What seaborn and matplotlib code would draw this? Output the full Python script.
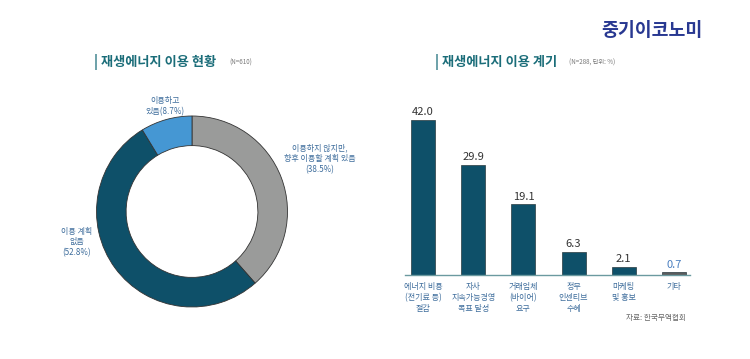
import matplotlib
matplotlib.use("Agg")
import matplotlib.pyplot as plt
import seaborn as sns
import pandas as pd

sns.set_theme(style="white")
plt.rcParams['font.family'] = ['Noto Sans CJK KR', 'DejaVu Sans']

# ---- data ----
pie_labels = ["이용하지 않지만,\n향후 이용할 계획 있음\n(38.5%)", "이용 계획\n없음\n(52.8%)", "이용하고\n있음(8.7%)"]
pie_values = [38.5, 52.8, 8.7]
pie_colors = ["#9a9b9a", "#0e5069", "#4597d3"]

bar_categories = ["에너지 비용\n(전기료 등)\n절감", "자사\n지속가능경영\n목표 달성", "거래업체\n(바이어)\n요구",
                  "정부\n인센티브\n수혜", "마케팅\n및 홍보", "기타"]
bar_values = [42.0, 29.9, 19.1, 6.3, 2.1, 0.7]
bar_colors = ["#0e5069", "#0e5069", "#0e5069", "#0e5069", "#0e5069", "#5a5b5c"]

W, H = 750, 359
fig = plt.figure(figsize=(W / 100, H / 100), dpi=100)
fig.patch.set_facecolor("white")

def fx(px):
    return px / W

def fy(py):
    return 1 - py / H

text_blue = "#3e6d9c"
title_col = "#1b6d79"

# ---- logo ----
fig.text(fx(703), fy(30), "중기이코노미", ha="right", va="center", fontsize=13.2,
         fontweight="bold", color="#283891")

# ---- titles ----
fig.text(fx(94), fy(62), "| 재생에너지 이용 현황", ha="left", va="center", fontsize=9.5,
         fontweight="bold", color=title_col)
fig.text(fx(229), fy(63), "(N=610)", ha="left", va="center", fontsize=4.5, color="#777777")
fig.text(fx(435), fy(62), "| 재생에너지 이용 계기", ha="left", va="center", fontsize=9.5,
         fontweight="bold", color=title_col)
fig.text(fx(569), fy(63), "(N=288, 단위: %)", ha="left", va="center", fontsize=4.5, color="#777777")

# ---- donut ----
cx, cy, r = 192, 211.5, 95.5
axp = fig.add_axes([fx(cx - r), fy(cy + r), (2 * r) / W, (2 * r) / H])
axp.pie(pie_values, colors=pie_colors, startangle=90, counterclock=False, radius=1,
        wedgeprops=dict(width=0.31, edgecolor="#333333", linewidth=0.6))
axp.set_xlim(-1, 1)
axp.set_ylim(-1, 1)
axp.set_aspect("auto")
axp.axis("off")

fig.text(fx(320), fy(159), pie_labels[0], ha="center", va="center", fontsize=5.8,
         color=text_blue, linespacing=1.25)
fig.text(fx(77), fy(242), pie_labels[1], ha="center", va="center", fontsize=5.8,
         color=text_blue, linespacing=1.25)
fig.text(fx(165), fy(106), pie_labels[2], ha="center", va="center", fontsize=5.8,
         color=text_blue, linespacing=1.25)

# ---- bars ----
base = 275
top = 105
axb = fig.add_axes([fx(405), fy(base), (690 - 405) / W, (base - top) / H])
df = pd.DataFrame({"cat": bar_categories, "val": bar_values})
sns.barplot(data=df, x="cat", y="val", hue="cat", palette=bar_colors, legend=False,
            saturation=1, width=0.48, edgecolor="#2a3a40", linewidth=0.5, ax=axb)
axb.set_xlim(-0.36, 5.32)
axb.set_ylim(0, 46)
for i, cont in enumerate(axb.containers):
    col = "#4a7fc0" if bar_values[i] < 1 else "#333333"
    axb.bar_label(cont, fmt="%.1f", padding=2, fontsize=8, color=col)
for s in ["top", "right", "left"]:
    axb.spines[s].set_visible(False)
axb.spines["bottom"].set_color("#6b9aa0")
axb.spines["bottom"].set_linewidth(1)
axb.set_yticks([])
axb.set_xlabel("")
axb.set_ylabel("")
axb.tick_params(axis="x", length=0, pad=5)
axb.set_xticks(range(len(bar_categories)))
axb.set_xticklabels(bar_categories, fontsize=5.8, color=text_blue, linespacing=1.3, va="top")
axb.patch.set_alpha(0)

fig.text(fx(686), fy(318), "자료: 한국무역협회", ha="right", va="center", fontsize=5.5, color="#666666")

fig.savefig("out.png", dpi=100, facecolor="white")
